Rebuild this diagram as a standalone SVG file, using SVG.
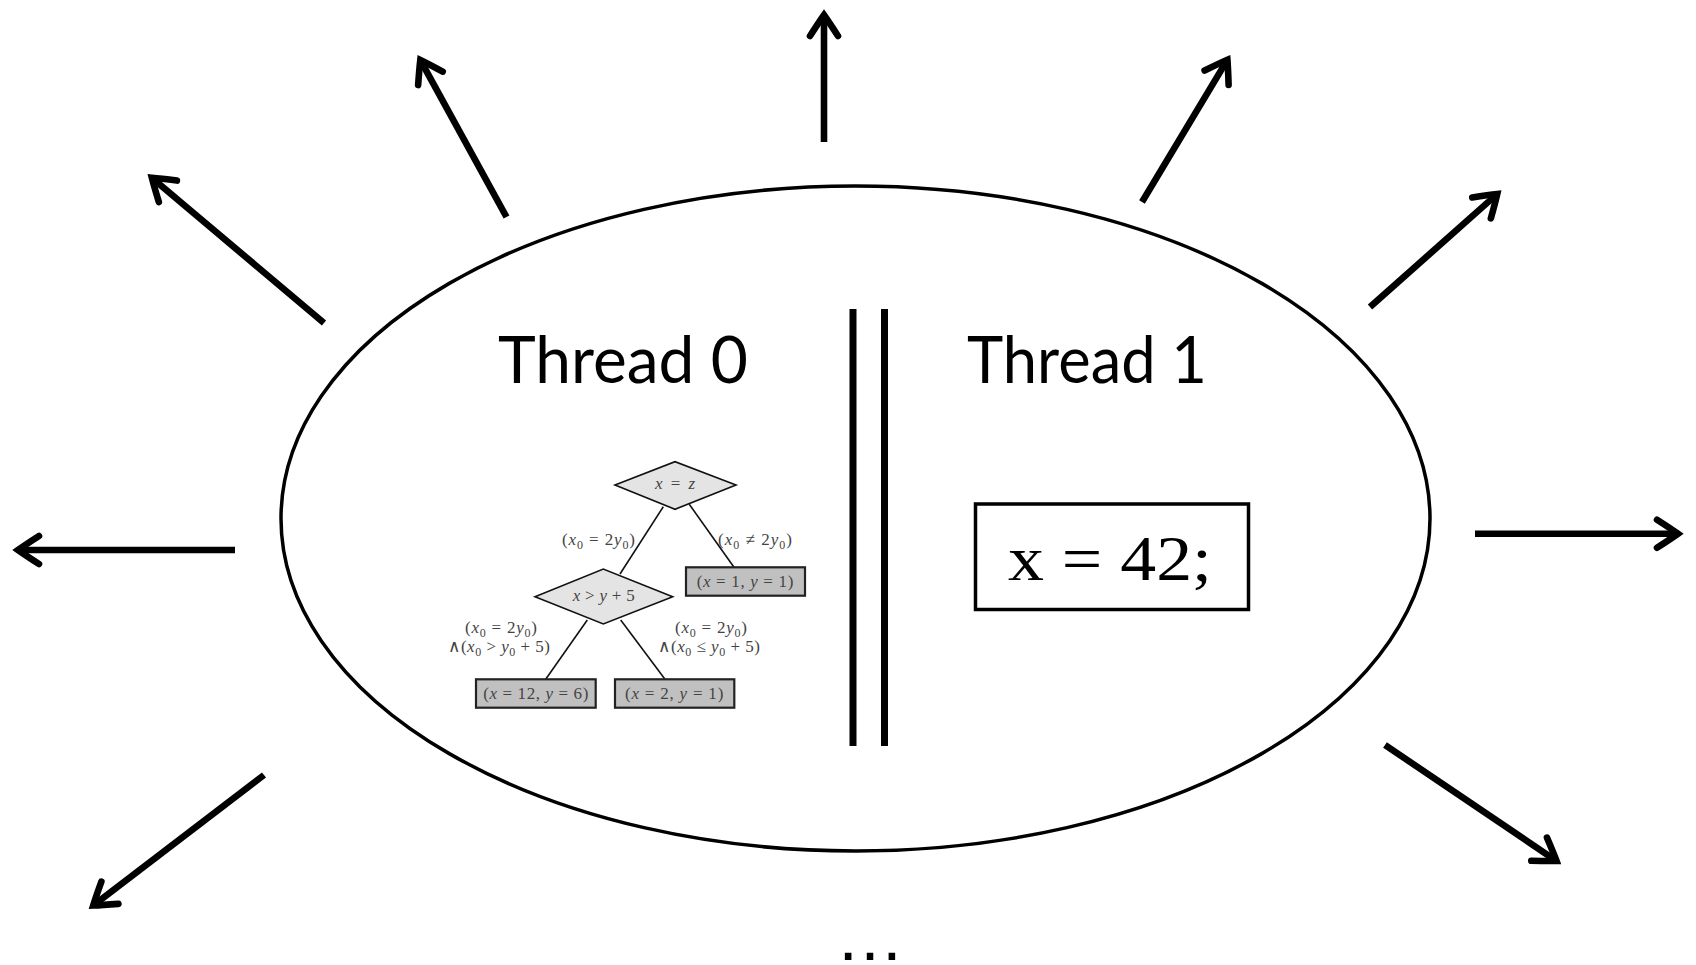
<svg xmlns="http://www.w3.org/2000/svg" width="1696" height="965" viewBox="0 0 1696 965">
<style>
.arrow{stroke:#000;stroke-width:6.6;fill:none;stroke-linecap:butt}
.title{font-family:Lato,"Liberation Sans",sans-serif;font-size:65px;fill:#000}
.tree{font-family:"Liberation Serif","DejaVu Serif",serif;font-size:17px;fill:#444}
.it{font-style:italic}
.tl{stroke:#111;stroke-width:1.6;fill:none}
.dia{fill:#e4e4e4;stroke:#111;stroke-width:1.6}
.leaf{fill:#c0c0c0;stroke:#222;stroke-width:2.2}
</style>
<defs>
<marker id="head" markerUnits="userSpaceOnUse" orient="auto" markerWidth="60" markerHeight="60" refX="0" refY="0" viewBox="-30 -30 60 60" overflow="visible">
<path d="M-20,-14 Q-6,-5 1,0 Q-6,5 -20,14" fill="none" stroke="#000" stroke-width="6.6" stroke-linecap="round" stroke-linejoin="miter"/>
</marker>
</defs>
<rect width="1696" height="965" fill="#fff"/>

<g id="connectors">
<line class="arrow" x1="824" y1="142" x2="824" y2="16" marker-end="url(#head)"/>
<line class="arrow" x1="506.5" y1="217" x2="420.8" y2="60.8" marker-end="url(#head)"/>
<line class="arrow" x1="324" y1="323" x2="152.6" y2="178.4" marker-end="url(#head)"/>
<line class="arrow" x1="1142" y1="202" x2="1226.9" y2="60.6" marker-end="url(#head)"/>
<line class="arrow" x1="1370" y1="307" x2="1496.5" y2="194.6" marker-end="url(#head)"/>
<line class="arrow" x1="235" y1="550" x2="19" y2="550" marker-end="url(#head)"/>
<line class="arrow" x1="1475" y1="533.7" x2="1677" y2="533.7" marker-end="url(#head)"/>
<line class="arrow" x1="264" y1="775" x2="94" y2="904.9" marker-end="url(#head)"/>
<line class="arrow" x1="1385" y1="745" x2="1555.7" y2="860.4" marker-end="url(#head)"/>
<line class="tl" x1="663.3" y1="506.7" x2="620" y2="574"/>
<line class="tl" x1="689.3" y1="504.3" x2="734" y2="567.3"/>
<line class="tl" x1="587.3" y1="620" x2="545.7" y2="679.3"/>
<line class="tl" x1="620.7" y1="620" x2="665" y2="679.3"/>
</g>

<g id="world">
<ellipse cx="855.5" cy="518.5" rx="574.5" ry="332.5" fill="none" stroke="#000" stroke-width="3.5"/>
<line x1="853" y1="309" x2="853" y2="746" stroke="#000" stroke-width="7"/>
<line x1="884.5" y1="309" x2="884.5" y2="746" stroke="#000" stroke-width="7"/>
</g>

<g id="thread0">
<text class="title" x="498" y="383.3" textLength="250" lengthAdjust="spacingAndGlyphs">Thread 0</text>
</g>
<g id="thread1">
<text class="title" x="967" y="383.3" textLength="240" lengthAdjust="spacingAndGlyphs">Thread 1</text>
</g>

<g id="code">
<rect x="975.5" y="504" width="273" height="105.5" fill="#fff" stroke="#000" stroke-width="3.5"/>
<text x="1008" y="580" font-family="'Liberation Serif','DejaVu Serif',serif" font-size="64" textLength="204" lengthAdjust="spacingAndGlyphs">x = 42;</text>
</g>

<g id="node-xz">
<polygon class="dia" points="615,485 675,461.7 736,485 675,509.3"/>
<text class="tree" x="655" y="489.3" textLength="40"><tspan class="it">x</tspan> = <tspan class="it">z</tspan></text>
</g>
<g id="node-xy5">
<polygon class="dia" points="535,596.7 603.3,569 672.7,596.7 603.3,624"/>
<text class="tree" x="572.7" y="600.7" textLength="62"><tspan class="it">x</tspan> &gt; <tspan class="it">y</tspan> + 5</text>
</g>
<g id="leaf-11">
<rect class="leaf" x="686" y="567.3" width="119" height="28.4"/>
<text class="tree" x="696.7" y="587.3" textLength="96.6">(<tspan class="it">x</tspan> = 1, <tspan class="it">y</tspan> = 1)</text>
</g>
<g id="leaf-126">
<rect class="leaf" x="476" y="679.3" width="119.7" height="28.4"/>
<text class="tree" x="483.3" y="699.3" textLength="105">(<tspan class="it">x</tspan> = 12, <tspan class="it">y</tspan> = 6)</text>
</g>
<g id="leaf-21">
<rect class="leaf" x="615" y="679.3" width="119.3" height="28.4"/>
<text class="tree" x="625" y="699.3" textLength="98.3">(<tspan class="it">x</tspan> = 2, <tspan class="it">y</tspan> = 1)</text>
</g>

<g id="labels">
<text class="tree" x="562" y="545" textLength="73">(<tspan class="it">x</tspan><tspan font-size="12" dy="4">0</tspan><tspan dy="-4"> = 2</tspan><tspan class="it">y</tspan><tspan font-size="12" dy="4">0</tspan><tspan dy="-4">)</tspan></text>
<text class="tree" x="718" y="545" textLength="74">(<tspan class="it">x</tspan><tspan font-size="12" dy="4">0</tspan><tspan dy="-4"> ≠ 2</tspan><tspan class="it">y</tspan><tspan font-size="12" dy="4">0</tspan><tspan dy="-4">)</tspan></text>
<text class="tree" x="465" y="632.7" textLength="72">(<tspan class="it">x</tspan><tspan font-size="12" dy="4">0</tspan><tspan dy="-4"> = 2</tspan><tspan class="it">y</tspan><tspan font-size="12" dy="4">0</tspan><tspan dy="-4">)</tspan></text>
<text class="tree" x="448" y="651.7" textLength="102">∧(<tspan class="it">x</tspan><tspan font-size="12" dy="4">0</tspan><tspan dy="-4"> &gt; </tspan><tspan class="it">y</tspan><tspan font-size="12" dy="4">0</tspan><tspan dy="-4"> + 5)</tspan></text>
<text class="tree" x="675" y="632.7" textLength="72">(<tspan class="it">x</tspan><tspan font-size="12" dy="4">0</tspan><tspan dy="-4"> = 2</tspan><tspan class="it">y</tspan><tspan font-size="12" dy="4">0</tspan><tspan dy="-4">)</tspan></text>
<text class="tree" x="658" y="651.7" textLength="102">∧(<tspan class="it">x</tspan><tspan font-size="12" dy="4">0</tspan><tspan dy="-4"> ≤ </tspan><tspan class="it">y</tspan><tspan font-size="12" dy="4">0</tspan><tspan dy="-4"> + 5)</tspan></text>
</g>

<g id="ellipsis">
<text x="870" y="960" text-anchor="middle" font-family="'Liberation Sans',sans-serif" font-size="69" fill="#000">…</text>
</g>
</svg>
